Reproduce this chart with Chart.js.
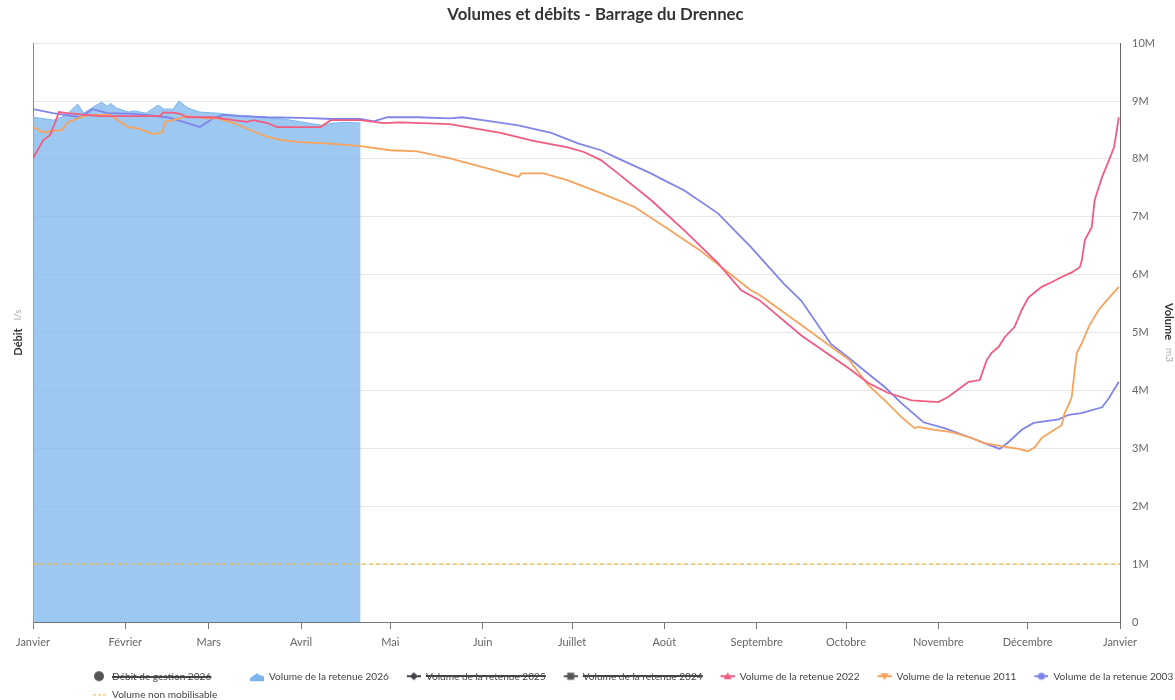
<!DOCTYPE html>
<html>
<head>
<meta charset="utf-8">
<script src="https://cdn.jsdelivr.net/npm/chart.js@4.4.1/dist/chart.umd.min.js"></script>
<style>
  html, body { margin: 0; padding: 0; background: #fff; }
  #wrap { width: 1175px; height: 700px; }
</style>
</head>
<body>
<div id="wrap"><canvas id="chart-drennec"></canvas></div>
<script>
// Axe des x : jours de l'annee (0 = 1er janvier)
var monthStarts = [0, 31, 59, 90, 120, 151, 181, 212, 243, 273, 304, 334, 365];
var monthLabels = ["Janvier", "Février", "Mars", "Avril", "Mai", "Juin", "Juillet",
    "Août", "Septembre", "Octobre", "Novembre", "Décembre", "Janvier"];

// Volumes en millions de m3
var volumeTicks = [0, 1, 2, 3, 4, 5, 6, 7, 8, 9, 10];

var days2026 = [0, 3, 7, 11, 15, 17, 20, 23, 25, 26, 28, 32, 34, 38, 42, 44, 47, 49, 52, 56,
    62, 67, 73, 79, 84, 90, 97, 101, 105, 110];
var vol2026 = [8.72, 8.70, 8.67, 8.75, 8.95, 8.79, 8.89, 8.98, 8.91, 8.96, 8.88, 8.81, 8.83, 8.79,
    8.93, 8.86, 8.86, 9.00, 8.88, 8.81, 8.79, 8.76, 8.74, 8.70, 8.69, 8.64, 8.58, 8.62, 8.63, 8.62];

var days2022 = [0, 3.4, 5.7, 7.4, 8.7, 11.4, 22.5, 32.6, 42.7, 43.7, 47, 49.4, 51.8, 60.5, 67.3,
    72, 74, 78.7, 82, 89.8, 96.5, 100, 110, 117.7, 123.4, 140, 157, 168, 179.6, 185, 190.7,
    196.4, 207.5, 218.6, 230, 237.8, 243.9, 258, 274, 280.5, 287, 295, 304, 307.4, 311.8,
    314.2, 317.9, 320.2, 321.9, 324.2, 326.3, 329.6, 332, 334.3, 336, 338.7, 342, 345.4,
    348.8, 351.5, 352.2, 353.2, 355.5, 356.5, 359, 361.3, 363, 364.6];
var vol2022 = [8.01, 8.32, 8.41, 8.62, 8.81, 8.79, 8.74, 8.74, 8.74, 8.80, 8.80, 8.78, 8.72, 8.72,
    8.67, 8.64, 8.67, 8.62, 8.55, 8.55, 8.55, 8.67, 8.67, 8.62, 8.63, 8.60, 8.45, 8.31, 8.20,
    8.12, 7.98, 7.75, 7.29, 6.77, 6.20, 5.73, 5.56, 4.95, 4.38, 4.13, 3.96, 3.83, 3.80, 3.89,
    4.06, 4.15, 4.18, 4.52, 4.65, 4.75, 4.92, 5.10, 5.39, 5.61, 5.68, 5.79, 5.87, 5.96, 6.04,
    6.13, 6.25, 6.60, 6.82, 7.29, 7.69, 7.98, 8.20, 8.72];

var days2011 = [0, 3.4, 6.7, 9.8, 11.4, 15.8, 19.2, 26, 29.3, 32, 35, 40.4, 43.4, 44.4, 47, 51.8,
    58.5, 62, 67.3, 73, 78.7, 84, 89.8, 101, 110, 120, 129, 140, 151, 163, 164, 171.5, 179.6,
    190.7, 202, 213, 224, 235.4, 241, 244, 258, 274, 280.5, 286, 291.6, 296, 297.3, 302.7,
    308.5, 314, 319.5, 325, 331, 334, 336.4, 338.7, 343, 345.4, 346.4, 348, 348.8, 349.8,
    350.5, 352.2, 354.5, 357.8, 361.3, 364.6];
var vol2011 = [8.55, 8.46, 8.48, 8.50, 8.62, 8.72, 8.76, 8.76, 8.64, 8.55, 8.53, 8.43, 8.46, 8.64,
    8.67, 8.74, 8.70, 8.70, 8.62, 8.50, 8.38, 8.32, 8.29, 8.26, 8.22, 8.15, 8.13, 8.01, 7.86,
    7.69, 7.75, 7.75, 7.63, 7.41, 7.17, 6.80, 6.42, 5.96, 5.73, 5.65, 5.13, 4.53, 4.09, 3.83,
    3.54, 3.35, 3.37, 3.32, 3.28, 3.20, 3.09, 3.04, 2.99, 2.95, 3.02, 3.18, 3.32, 3.40, 3.61,
    3.78, 3.89, 4.35, 4.65, 4.82, 5.10, 5.39, 5.60, 5.79];

var days2003 = [0, 6.7, 15.8, 20, 25, 34, 45, 50.5, 56, 60.5, 64, 69.6, 78.7, 90, 101, 110, 114.4,
    119, 129, 140, 144, 151, 163, 174, 183, 190.7, 196.4, 207.5, 212, 218.6, 230, 241, 252,
    258, 268, 274, 279, 286, 291.6, 299, 306, 314, 321, 324.6, 327.6, 332, 336, 344.4, 347.8,
    352, 359, 361.3, 364.6];
var vol2003 = [8.86, 8.79, 8.72, 8.86, 8.79, 8.78, 8.72, 8.64, 8.55, 8.70, 8.76, 8.74, 8.72, 8.71,
    8.69, 8.69, 8.65, 8.72, 8.72, 8.70, 8.72, 8.67, 8.58, 8.45, 8.27, 8.15, 8.01, 7.75, 7.63,
    7.46, 7.06, 6.48, 5.85, 5.55, 4.80, 4.56, 4.35, 4.06, 3.78, 3.45, 3.35, 3.20, 3.06, 2.99,
    3.11, 3.32, 3.44, 3.50, 3.58, 3.61, 3.71, 3.87, 4.15];

var daysNonMobilisable = [0, 365];
var volNonMobilisable = [1, 1];

var FONT = "Lato, 'Noto Sans', sans-serif";
var LEGEND_FONT_SIZE = 10.1;
var ICON_BOX = 24;      // largeur de la case de legende (icone calee a droite)
var LEGEND_DX = 75;     // decalage horizontal de la legende
var LEGEND_DY = 7;
var TITLE_DX = 8;

function toPoints(xs, ys) {
    return xs.map(function (x, i) {
        return { x: x, y: ys[i] };
    });
}

// Petites icones de legende dessinees dans un canvas
function makeIcon(kind, color) {
    var c = document.createElement("canvas");
    c.width = ICON_BOX;
    c.height = 12;
    var g = c.getContext("2d");
    var x0 = ICON_BOX - 14;
    var cy = 6;
    g.fillStyle = color;
    g.strokeStyle = color;

    if (kind === "circle") {
        g.beginPath();
        g.arc(x0 + 6, cy, 5, 0, Math.PI * 2);
        g.fill();
        return c;
    }
    if (kind === "area") {
        g.beginPath();
        g.moveTo(x0, 11);
        g.lineTo(x0, 8);
        g.lineTo(x0 + 4, 5);
        g.lineTo(x0 + 7, 3);
        g.lineTo(x0 + 10, 5);
        g.lineTo(x0 + 14, 6);
        g.lineTo(x0 + 14, 11);
        g.closePath();
        g.fill();
        return c;
    }
    if (kind === "dash") {
        g.lineWidth = 1;
        g.setLineDash([3, 2]);
        g.beginPath();
        g.moveTo(x0, cy + 0.5);
        g.lineTo(x0 + 14, cy + 0.5);
        g.stroke();
        return c;
    }

    g.lineWidth = 2;
    g.beginPath();
    g.moveTo(x0, cy);
    g.lineTo(x0 + 14, cy);
    g.stroke();

    var mx = x0 + 7;
    g.beginPath();
    if (kind === "diamond") {
        g.moveTo(mx, cy - 4); g.lineTo(mx + 4, cy); g.lineTo(mx, cy + 4); g.lineTo(mx - 4, cy);
    } else if (kind === "square") {
        g.rect(mx - 3.5, cy - 3.5, 7, 7);
    } else if (kind === "triangle") {
        g.moveTo(mx, cy - 4); g.lineTo(mx + 4, cy + 3); g.lineTo(mx - 4, cy + 3);
    } else if (kind === "triangleDown") {
        g.moveTo(mx - 4, cy - 3); g.lineTo(mx + 4, cy - 3); g.lineTo(mx, cy + 4);
    } else {
        g.arc(mx, cy, 3.5, 0, Math.PI * 2);
    }
    g.closePath();
    g.fill();
    return c;
}

// Titres d'axes en deux styles (libelle gras + unite grise)
function drawAxisTitle(ctx, x, y, angle, label, unit) {
    ctx.save();
    ctx.translate(x, y);
    ctx.rotate(angle);
    ctx.textBaseline = "middle";
    ctx.textAlign = "left";
    ctx.font = "bold 11px " + FONT;
    var w1 = ctx.measureText(label).width;
    ctx.font = "10px " + FONT;
    var w2 = ctx.measureText(unit).width;
    var gap = 8;
    var start = -(w1 + gap + w2) / 2;
    ctx.font = "bold 11px " + FONT;
    ctx.fillStyle = "#333333";
    ctx.fillText(label, start, 0);
    ctx.font = "10px " + FONT;
    ctx.fillStyle = "#aaaaaa";
    ctx.fillText(unit, start + w1 + gap, 0);
    ctx.restore();
}

var axisTitles = {
    id: "axisTitles",
    afterDraw: function (chart) {
        var a = chart.chartArea;
        var midY = (a.top + a.bottom) / 2;
        drawAxisTitle(chart.ctx, 18, midY, -Math.PI / 2, "Débit", "l/s");
        drawAxisTitle(chart.ctx, 1169, midY, Math.PI / 2, "Volume", "m3");
    }
};

// Decale legende et titre apres le calcul de la mise en page
var boxShift = {
    id: "boxShift",
    afterLayout: function (chart) {
        var lg = chart.legend;
        lg.left += LEGEND_DX;
        lg.right += LEGEND_DX;
        lg.top += LEGEND_DY;
        lg.bottom += LEGEND_DY;
        var tb = chart.titleBlock;
        tb.left += TITLE_DX;
        tb.right += TITLE_DX;
    }
};

// Legende en colonnes de meme largeur : on complete les libelles courts par des espaces
var measureCtx = document.createElement("canvas").getContext("2d");
measureCtx.font = LEGEND_FONT_SIZE + "px " + FONT;

function legendLabels(chart) {
    var items = Chart.defaults.plugins.legend.labels.generateLabels(chart);
    var target = 0;
    items.forEach(function (it) {
        target = Math.max(target, measureCtx.measureText(it.text).width);
    });
    items.forEach(function (it, i) {
        if (i === items.length - 1) return;
        while (measureCtx.measureText(it.text + " ").width <= target + 0.5) {
            it.text += " ";
        }
    });
    return items;
}

var lineBase = {
    type: "line",
    pointRadius: 0,
    pointHoverRadius: 0,
    borderWidth: 1.8,
    tension: 0,
    fill: false,
    yAxisID: "yVolume",
    order: 0
};

function lineSet(label, color, marker, xs, ys, extra) {
    return Object.assign({}, lineBase, {
        label: label,
        borderColor: color,
        backgroundColor: color,
        pointStyle: makeIcon(marker, color),
        data: xs ? toPoints(xs, ys) : []
    }, extra || {});
}

var ctx = document.getElementById("chart-drennec");

new Chart(ctx, {
    type: "line",
    data: {
        datasets: [
            lineSet("Débit de gestion 2026", "#555555", "circle", null, null,
                { hidden: true, yAxisID: "yDebit" }),
            lineSet("Volume de la retenue 2026", "#7cb5ec", "area", days2026, vol2026, {
                borderWidth: 1,
                backgroundColor: "rgba(124, 181, 236, 0.75)",
                fill: "origin",
                order: 10
            }),
            lineSet("Volume de la retenue 2025", "#434348", "diamond", null, null, { hidden: true }),
            lineSet("Volume de la retenue 2024", "#555555", "square", null, null, { hidden: true }),
            lineSet("Volume de la retenue 2022", "#f15c80", "triangle", days2022, vol2022),
            lineSet("Volume de la retenue 2011", "#f7a35c", "triangleDown", days2011, vol2011),
            lineSet("Volume de la retenue 2003", "#8085e9", "circleMark", days2003, vol2003),
            lineSet("Volume non mobilisable", "#f5b942", "dash", daysNonMobilisable, volNonMobilisable, {
                borderWidth: 1.2,
                borderDash: [4, 3]
            })
        ]
    },
    options: {
        responsive: true,
        maintainAspectRatio: false,
        animation: false,
        events: [],
        layout: { padding: { top: 0, right: 0, bottom: -2.4, left: 0 } },
        plugins: {
            title: {
                display: true,
                text: "Volumes et débits - Barrage du Drennec",
                color: "#333333",
                font: { family: FONT, size: 16.8, weight: "bold" },
                padding: { top: 5, bottom: 18 }
            },
            legend: {
                position: "bottom",
                align: "start",
                labels: {
                    usePointStyle: true,
                    pointStyleWidth: ICON_BOX,
                    padding: 8,
                    color: "#444444",
                    font: { family: FONT, size: LEGEND_FONT_SIZE },
                    generateLabels: legendLabels,
                    sort: function (a, b) {
                        return a.datasetIndex - b.datasetIndex;
                    }
                }
            },
            tooltip: { enabled: false }
        },
        scales: {
            x: {
                type: "linear",
                min: 0,
                max: 365,
                afterBuildTicks: function (scale) {
                    scale.ticks = monthStarts.map(function (v) {
                        return { value: v };
                    });
                },
                ticks: {
                    autoSkip: false,
                    maxRotation: 0,
                    padding: 7,
                    color: "#666666",
                    font: { family: FONT, size: 11 },
                    callback: function (value) {
                        var i = monthStarts.indexOf(value);
                        return i >= 0 ? monthLabels[i] : "";
                    }
                },
                grid: {
                    drawOnChartArea: false,
                    drawTicks: true,
                    tickLength: 7,
                    color: "#777777"
                },
                border: { display: true, color: "#777777", width: 1 }
            },
            yDebit: {
                type: "linear",
                position: "left",
                min: 0,
                max: 1,
                ticks: { display: false },
                grid: { display: false },
                border: { display: true, color: "#888888", width: 1 },
                afterFit: function (scale) {
                    scale.width = 33;
                }
            },
            yVolume: {
                type: "linear",
                position: "right",
                min: 0,
                max: 10,
                afterBuildTicks: function (scale) {
                    scale.ticks = volumeTicks.map(function (v) {
                        return { value: v };
                    });
                },
                ticks: {
                    padding: 12,
                    color: "#666666",
                    font: { family: FONT, size: 11 },
                    callback: function (value) {
                        return value === 0 ? "0" : value + "M";
                    }
                },
                grid: {
                    color: "#e6e6e6",
                    drawTicks: false
                },
                border: { display: true, color: "#666666", width: 1 },
                afterFit: function (scale) {
                    scale.width = 55;
                }
            }
        }
    },
    plugins: [axisTitles, boxShift]
});
</script>
</body>
</html>
